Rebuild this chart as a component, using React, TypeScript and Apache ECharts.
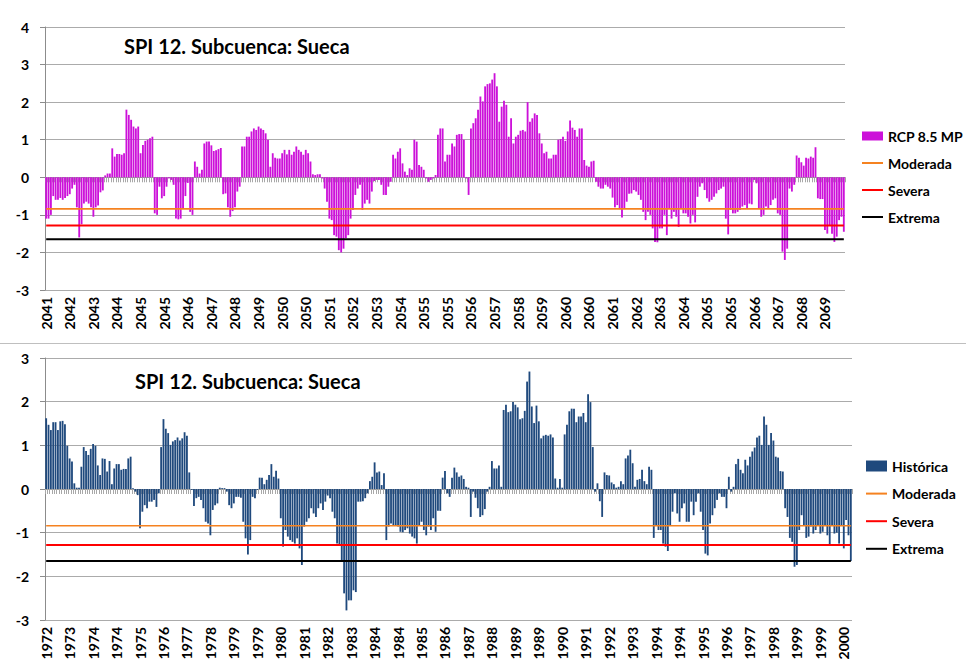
import React, { useEffect, useRef } from "react";
import * as echarts from "echarts";

const TITLE = "SPI 12. Subcuenca: Sueca";
const FONT = "Lato, 'Open Sans', sans-serif";

// First month of each series (month index 0 = January)
const rcpStart = { year: 2041, month: 8 };
const histStart = { year: 1972, month: 4 };

const rcpName = "RCP 8.5 MP";
const histName = "Histórica";

// SPI 12 values, RCP 8.5 MP (2041-2069)
const rcpSpi = [
  -1.1, -1.1, -1.0, -0.5, -0.6, -0.6, -0.55, -0.6, -0.55, -0.5, -0.45, -0.3, -0.2, -0.8, -1.6, -1.25, -0.7, -0.65, -0.7, -0.8, -1.05, -0.8, -0.75, -0.4, -0.35,
  0.05, 0.1, 0.1, 0.77, 0.55, 0.62, 0.62, 0.6, 0.64, 1.8, 1.66, 1.53, 1.35, 1.3, 1.35, 0.64, 0.86, 0.97, 1.0, 1.04, 1.08,
  -0.96, -1.0, -0.25, -0.56, -0.5, -0.25, -0.03, -0.07, -0.2, -1.1, -1.12, -1.1, -0.83, -0.5, -0.15, -0.92, -1.0,
  0.42, 0.28, 0.1, 0.2, 0.9, 0.95,
  0.95, 0.85, 0.7, 0.72, 0.75, 0.78, -0.45, -0.43, -0.8, -1.05, -0.9, -0.8, -0.38, -0.25,
  0.82, 0.82, 1.08, 1.08, 1.22, 1.3, 1.26, 1.35, 1.3, 1.26, 1.17, 1.0,
  0.28, 0.64, 0.52, 0.5, 0.5, 0.64, 0.73, 0.61, 0.73, 0.6, 0.68, 0.82, 0.73, 0.68, 0.6, 0.73, 0.64, 0.42,
  0.08, 0.06, 0.08, 0.08,
  -0.03, -0.3, -0.65, -1.1, -1.14, -1.54, -1.58, -1.94, -2.0, -1.9, -1.62, -1.54, -1.1, -0.87, -0.47, -0.3, -0.2, -0.87, -0.7, -0.6, -0.7,
  -0.38, -0.1, -0.07, -0.07, -0.2, -0.47, -0.47, -0.25, -0.12,
  0.6, 0.5, 0.68, 0.77, 0.37, 0.15, 0.06, 0.24, 0.2, 1.0, 0.95, 0.33, 0.28, 0.2, -0.03, -0.12, -0.07, -0.03, 0.06,
  1.13, 1.3, 1.3, 0.42, 0.6, 0.6, 0.9, 0.82, 1.13, 1.15, 1.15, 1.0, -0.03, -0.47,
  1.3, 1.44, 1.57, 1.8, 2.15, 2.02, 2.42, 2.48, 2.5, 2.6, 2.77, 2.42, 1.48, 1.88, 2.04, 1.93, 1.08, 1.57, 0.9, 1.08, 1.13, 1.24, 1.26, 1.22, 2.0, 1.48,
  1.57, 1.7, 1.66, 1.17, 0.9, 0.64, 0.68, 0.5, 0.5, 0.6, 0.6,
  1.0, 1.02, 1.08, 0.97, 1.22, 1.51, 1.32, 1.26, 1.08, 1.3, 1.3,
  0.46, 0.31, 0.28, 0.42, 0.44,
  -0.12, -0.25, -0.3, -0.3, -0.2, -0.25, -0.3,
  -0.54, -0.8, -0.74, -0.85, -1.07, -0.83, -0.65, -0.44, -0.43, -0.34, -0.38, -0.47, -0.6, -0.92, -1.14, -0.92, -1.0, -1.36, -1.72, -1.73,
  -1.36, -1.36, -1.0, -1.54, -0.83, -1.1, -0.92, -1.05, -1.32, -0.83, -0.96, -0.96, -1.05, -1.23, -1.0, -1.2,
  -0.52, -0.25, -0.16, -0.34, -0.56, -0.65, -0.6, -0.52, -0.43, -0.34, -0.3, -0.25,
  -1.1, -1.52, -0.87, -0.96, -0.96, -0.92, -0.87, -0.78, -0.74, -0.83, -0.7, -0.72,
  -0.07, -0.16,
  -0.83, -1.05, -1.0, -0.78, -0.83, -0.74, -0.6, -0.56, -0.96, -1.0,
  -1.98, -2.2, -1.9, -0.3, -0.38, -0.2,
  0.58, 0.52, 0.4, 0.31, 0.52, 0.5, 0.55, 0.52, 0.8,
  -0.56, -0.58, -0.58, -1.4, -1.5, -1.27, -1.5, -1.72, -1.58, -1.14, -1.05, -1.45,
];

// SPI 12 values, historical (1972-2000)
const histSpi = [
  1.62, 1.47, 1.35, 1.53, 1.53, 1.35, 1.55, 1.56, 1.48,
  0.99, 0.7, 0.63, 0.13, 0.03, 0.03, 0.51,
  0.96, 0.87, 0.78, 0.92, 1.03, 0.99,
  0.54, 0.32, 0.7, 0.69, 0.4, 0.64, 0.11, 0.47, 0.57, 0.57, 0.44, 0.46, 0.46, 0.7, 0.74,
  0.02, -0.06, -0.14,
  -0.9, -0.52, -0.37, -0.44, -0.29, -0.29, -0.25, -0.41, -0.1,
  0.96, 1.6, 1.38, 1.28, 1.01, 1.09, 1.12, 1.18, 1.11, 1.16, 1.3, 1.22,
  0.38, -0.02, -0.39, -0.21, -0.18, -0.25, -0.44, -0.75,
  -0.79, -1.06, -0.48, -0.37, -0.33, 0.03, 0.02, 0.02,
  -0.06, -0.37, -0.44, -0.33, -0.18, -0.18, -0.2,
  -0.75, -1.13, -1.5, -1.17, -0.18, -0.21, -0.02,
  0.26, 0.26, 0.11, 0.21, 0.32, 0.57, 0.28, 0.42, 0.24,
  -0.67, -1.32, -0.94, -1.09, -1.17, -1.21, -1.25, -1.13, -1.36, -1.74,
  -0.86, -0.75, -0.67, -0.44, -0.56, -0.64, -0.44, -0.33, -0.48, -0.29, -0.15, -0.21, -0.52, -0.67,
  -1.25, -1.29, -1.67, -2.39, -2.78, -2.55, -2.55, -2.32, -2.36,
  -0.29, -0.29, -0.28, -0.21, -0.1, 0.18,
  0.28, 0.61, 0.38, 0.4, 0.09, 0.36,
  -1.17, -0.86, -0.79, -0.83, -0.83, -0.86, -0.98, -0.99, -0.94, -0.9, -1.02, -1.09, -1.13, -1.25, -0.83, -0.75, -0.94, -1.06, -0.86, -0.94, -0.67, -0.98, -0.5, -0.5,
  0.26, 0.41, -0.1, -0.18, 0.26, 0.49, 0.38, 0.28, 0.31, 0.23, 0.05, 0.03,
  -0.64, -0.06, -0.2, -0.44, -0.64, -0.6, -0.46, -0.06,
  0.05, 0.64, 0.47, 0.47, 0.54, 0.05,
  1.81, 1.93, 1.76, 1.78, 1.99, 1.93, 1.87, 1.6, 1.62, 1.79, 2.46, 2.69,
  1.89, 1.51, 1.91, 1.55, 1.16, 1.22, 1.24, 1.22, 1.25, 1.18,
  0.24, 0.03, 0.23, 0.03,
  1.25, 1.47, 1.78, 1.84, 1.84, 1.53, 1.66, 1.66, 1.74, 1.53, 2.17, 1.99,
  0.96, -0.06, 0.13, -0.28, -0.64,
  0.38, 0.32, 0.31, 0.15, 0.11, 0.03, 0.05, 0.18, 0.11,
  0.7, 0.77, 0.9, 0.59, 0.05, 0.21, 0.23, 0.44, 0.18, 0.11, 0.51, 0.44,
  -1.12, -0.83, -0.94, -0.94, -1.25, -1.32, -1.42, -0.83, -0.52, -0.1, -0.56, -0.75, -0.44, -0.33, -0.75, -0.75, -0.29,
  -0.6, -0.29, -0.1, -0.52, -0.94, -1.48, -1.52, -0.79, -0.6, -0.44, -0.25, -0.1, -0.18, -0.18, -0.44,
  0.28, -0.06, 0.05,
  0.57, 0.69, 0.44, 0.36, 0.67, 0.54, 0.74, 0.86, 0.95, 1.18, 1.22, 1.01, 1.66, 1.47, 1.01, 1.28, 1.11, 0.74, 0.72, 0.41, 0.4,
  -0.44, -0.64, -1.12, -1.21, -1.78, -1.74, -0.94, -0.6, -0.83, -1.12, -1.09, -0.86, -1.02, -0.94, -0.83, -1.02, -0.98,
  -0.83, -1.06, -1.29, -0.83, -1.02, -1.0, -1.25, -0.83, -1.36, -0.71, -1.06, -1.65,
];

// Drought thresholds
const thresholdNames = ["Moderada", "Severa", "Extrema"];
const thresholdValues = [-0.84, -1.28, -1.65];
const thresholdColors = ["#F58220", "#FF0000", "#000000"];

const yearLabels = (start: { year: number; month: number }, n: number) =>
  Array.from({ length: n }, (_, i) => String(start.year + Math.floor((start.month + i) / 12)));

const BAR_ICON_TOP = "path://M0,0h21v9h-21z";
const BAR_ICON_BOTTOM = "path://M0,0h21v11h-21z";
const LINE_ICON = "path://M0,0h21v2h-21z";

export default function App() {
  const ref = useRef<HTMLDivElement>(null);

  useEffect(() => {
    if (!ref.current) return;
    const chart = echarts.init(ref.current, undefined, { renderer: "svg" });

    const topCats = yearLabels(rcpStart, rcpSpi.length);
    const botCats = yearLabels(histStart, histSpi.length);

    const zeroAxis = (gridIndex: number, data: string[]) => ({
      type: "category",
      gridIndex,
      data,
      position: "bottom",
      boundaryGap: true,
      axisLine: { show: true, onZero: true, lineStyle: { color: "#9A9A9A", width: 1 } },
      axisTick: { show: true, interval: 0, length: 5, lineStyle: { color: "#A8A8A8", width: 1 } },
      axisLabel: { show: false },
      splitLine: { show: false },
    });
    const labelAxis = (gridIndex: number, data: string[]) => ({
      type: "category",
      gridIndex,
      data,
      position: "bottom",
      boundaryGap: true,
      axisLine: { show: false, onZero: false },
      axisTick: { show: false },
      axisLabel: {
        interval: 9,
        rotate: 90,
        margin: 7,
        fontFamily: FONT,
        fontWeight: "bold",
        fontSize: 14,
        color: "#000",
        hideOverlap: false,
      },
      splitLine: { show: false },
    });
    const valueAxis = (gridIndex: number, min: number, max: number) => ({
      type: "value",
      gridIndex,
      min,
      max,
      interval: 1,
      axisLine: { show: true, lineStyle: { color: "#8C8C8C", width: 1 } },
      axisTick: { show: true, length: 5, lineStyle: { color: "#8C8C8C" } },
      axisLabel: { margin: 16, fontFamily: FONT, fontWeight: "bold", fontSize: 14, color: "#000" },
      splitLine: { show: true, lineStyle: { color: "#ABABAB", width: 1 } },
    });

    const thresholdSeries = (xi: number, yi: number, n: number) =>
      thresholdNames.map((name, k) => ({
        type: "line",
        name,
        xAxisIndex: xi,
        yAxisIndex: yi,
        data: new Array(n).fill(thresholdValues[k]),
        symbol: "none",
        showSymbol: false,
        lineStyle: { color: thresholdColors[k], width: k === 0 ? 1.6 : 2 },
        itemStyle: { color: thresholdColors[k] },
        z: 4,
        silent: true,
      }));

    const legendText = { fontFamily: FONT, fontWeight: "bold", fontSize: 14, color: "#000", lineHeight: 14 };
    const lineLegendItems = thresholdNames.map((name) => ({ name, icon: LINE_ICON }));

    chart.setOption({
      animation: false,
      backgroundColor: "#FFFFFF",
      title: [
        {
          text: TITLE,
          left: 119,
          top: 31,
          textStyle: { fontFamily: FONT, fontWeight: "bold", fontSize: 20, color: "#000" },
        },
        {
          text: TITLE,
          left: 130,
          top: 366,
          textStyle: { fontFamily: FONT, fontWeight: "bold", fontSize: 20, color: "#000" },
        },
      ],
      legend: [
        {
          left: 857,
          top: 124,
          orient: "vertical",
          itemWidth: 21,
          itemHeight: 14,
          itemGap: 13,
          selectedMode: false,
          symbolKeepAspect: true,
          textStyle: legendText,
          data: [{ name: rcpName, icon: BAR_ICON_TOP }, ...lineLegendItems],
        },
        {
          left: 861,
          top: 454,
          orient: "vertical",
          itemWidth: 21,
          itemHeight: 14,
          itemGap: 13.6,
          selectedMode: false,
          symbolKeepAspect: true,
          textStyle: legendText,
          data: [{ name: histName, icon: BAR_ICON_BOTTOM }, ...lineLegendItems],
        },
      ],
      grid: [
        { left: 45, top: 27, width: 800, height: 263, outerBoundsMode: "none", containLabel: false },
        { left: 45, top: 358, width: 807, height: 262, outerBoundsMode: "none", containLabel: false },
      ],
      xAxis: [zeroAxis(0, topCats), labelAxis(0, topCats), zeroAxis(1, botCats), labelAxis(1, botCats)],
      yAxis: [valueAxis(0, -3, 4), valueAxis(1, -3, 3)],
      series: [
        {
          type: "bar",
          name: rcpName,
          xAxisIndex: 0,
          yAxisIndex: 0,
          data: rcpSpi,
          barCategoryGap: "22%",
          itemStyle: { color: "#CC11D9" },
          silent: true,
          z: 2,
        },
        ...thresholdSeries(0, 0, rcpSpi.length),
        {
          type: "bar",
          name: histName,
          xAxisIndex: 2,
          yAxisIndex: 1,
          data: histSpi,
          barCategoryGap: "22%",
          itemStyle: { color: "#1F497D" },
          silent: true,
          z: 2,
        },
        ...thresholdSeries(2, 1, histSpi.length),
      ],
      graphic: [
        {
          type: "line",
          shape: { x1: 0, y1: 343.5, x2: 966, y2: 343.5 },
          style: { stroke: "#BFBFBF", lineWidth: 1 },
          silent: true,
        },
      ],
    });

    return () => chart.dispose();
  }, []);

  return (
    <div
      ref={ref}
      style={{ position: "absolute", left: 0, top: 0, width: 966, height: 670, background: "#fff" }}
    />
  );
}
